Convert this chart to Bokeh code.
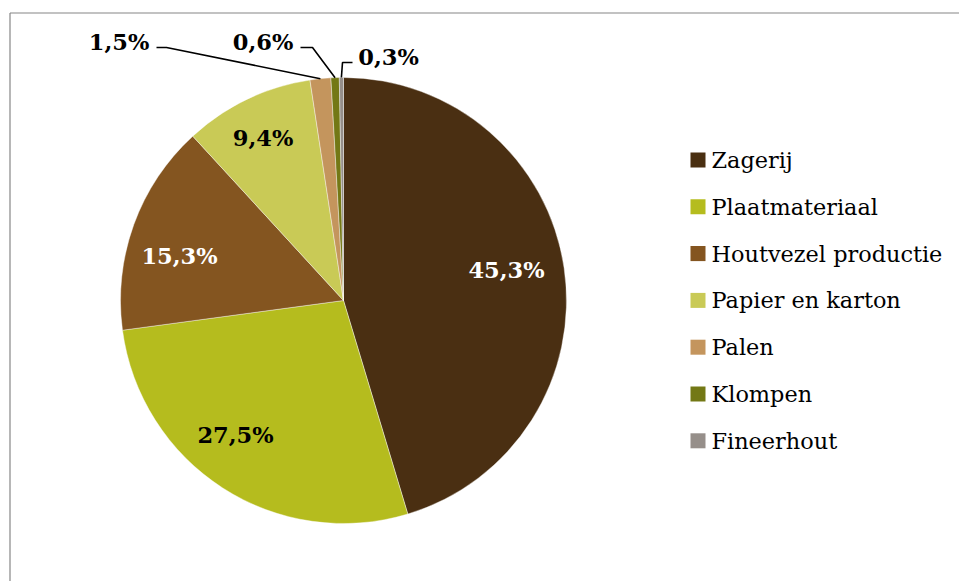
import math
from bokeh.plotting import figure
from bokeh.models import ColumnDataSource
from bokeh.core.properties import value
from bokeh.embed import file_html
from bokeh.resources import INLINE

# ---- data ----
categories = ["Zagerij", "Plaatmateriaal", "Houtvezel productie",
              "Papier en karton", "Palen", "Klompen", "Fineerhout"]
shares = [45.3, 27.5, 15.3, 9.4, 1.5, 0.6, 0.3]
share_labels = ["45,3%", "27,5%", "15,3%", "9,4%", "1,5%", "0,6%", "0,3%"]
colors = ["#4a2f12", "#b5bc1e", "#845520", "#c9ca56",
          "#c4955d", "#737815", "#968f8a"]
label_colors = ["white", "black", "white", "black", "black", "black", "black"]

# ---- layout (page pixels) ----
W, H = 959, 581
OFF = 0
def X(px):
    return px - OFF
def Y(py):
    return H - (py - OFF)

CX, CY, R = 343, 300, 223
# label centres relative to pie centre (page px, y down)
label_dx = [163, -108, -164, -80.5, -224.5, -80.5, 45]
label_dy = [-30.5, 134.5, -45, -162.5, -259, -259, -244]
# leader lines for outside labels: index -> (start, elbow) relative to centre
leaders = {4: ((-187, -253), (-177, -253)),
           5: ((-43, -253), (-31, -253)),
           6: ((9, -238), (-1, -238))}

FONT = value("DejaVu Serif")

p = figure(width=W, height=H, x_range=(0, W), y_range=(0, H), min_border=0,
           toolbar_location=None, output_backend="svg",
           x_axis_location=None, y_axis_location=None)
p.grid.visible = False
p.outline_line_color = None
p.background_fill_color = "white"
p.border_fill_color = "white"

# chart border (top and left visible)
p.line(x=[X(9) + 0.5, W], y=[Y(12) - 0.5, Y(12) - 0.5], line_color="#868686", line_width=1.2)
p.line(x=[X(9) + 0.5, X(9) + 0.5], y=[0, Y(12) - 0.5], line_color="#868686", line_width=1.2)

# wedges
total = sum(shares)
starts, ends, mids = [], [], []
cum = 0.0
for s in shares:
    a0 = math.pi / 2 - 2 * math.pi * (cum + s) / total
    a1 = math.pi / 2 - 2 * math.pi * cum / total
    starts.append(a0)
    ends.append(a1)
    mids.append((a0 + a1) / 2)
    cum += s

src = ColumnDataSource(dict(start=starts, end=ends, color=colors, cat=categories))
p.wedge(x=X(CX), y=Y(CY), radius=R, start_angle="start", end_angle="end",
        direction="anticlock", fill_color="color", line_color="white",
        line_width=0.4, source=src)

# labels
lx = [X(CX + dx) for dx in label_dx]
ly = [Y(CY + dy) for dy in label_dy]
lsrc = ColumnDataSource(dict(x=lx, y=ly, t=share_labels, c=label_colors))
p.text(x="x", y="y", text="t", text_color="c", source=lsrc,
       text_font=FONT, text_font_style="bold", text_font_size="22.5px",
       text_align="center", text_baseline="middle")

# leader lines
for i, (st, el) in leaders.items():
    ex = X(CX) + R * math.cos(mids[i])
    ey = Y(CY) + R * math.sin(mids[i])
    p.line(x=[X(CX + st[0]), X(CX + el[0]), ex],
           y=[Y(CY + st[1]), Y(CY + el[1]), ey],
           line_color="black", line_width=1.6)

# legend
LEG_X, LEG_Y0, LEG_PITCH, SQ = 690, 159.5, 46.8, 15
leg_y = [Y(LEG_Y0 + i * LEG_PITCH) for i in range(len(categories))]
legsrc = ColumnDataSource(dict(y=leg_y, c=colors, t=categories))
p.rect(x=X(LEG_X + SQ / 2), y="y", width=SQ, height=SQ, fill_color="c",
       line_color=None, source=legsrc)
p.text(x=X(711), y="y", text="t", source=legsrc, text_color="black",
       text_font=FONT, text_font_size="22.4px", text_align="left",
       text_baseline="middle")

open("out.html", "w").write(file_html(p, INLINE))
